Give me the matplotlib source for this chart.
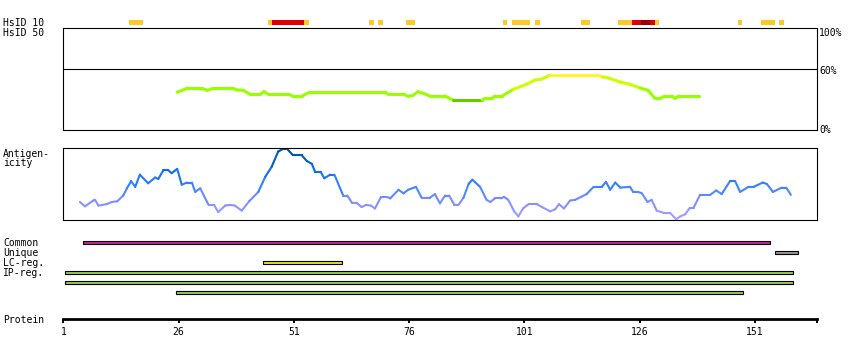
import matplotlib
matplotlib.use("Agg")
import matplotlib.pyplot as plt
from matplotlib.collections import LineCollection
from matplotlib.colors import LinearSegmentedColormap
import numpy as np

W, H = 850, 360
SEQ_END = 164.4  # right end of the protein ruler (residues)

# HsID 10 hits, half-open residue ranges; level 1 = orange, 2 = red, 3 = dark red
hsid_start = [15, 45, 46, 53, 67, 69, 75, 96, 98, 103, 113, 121, 124, 126, 128, 129, 147, 152, 156]
hsid_stop = [18, 46, 53, 54, 68, 70, 77, 97, 102, 104, 115, 124, 126, 128, 129, 130, 148, 155, 157]
hsid_level = [1, 1, 2, 1, 1, 1, 1, 1, 1, 1, 1, 1, 2, 3, 2, 1, 1, 1, 1]

# sequence identity (%) along the protein
id_pos = [25.7, 27.8, 31.1, 32.2, 33.5, 37.8, 38.7, 40.0, 41.5, 43.7, 44.5, 45.4, 49.7, 50.8,
          52.8, 54.5, 70.8, 71.4, 74.7, 75.8, 76.9, 77.9, 79.5, 80.5, 83.8, 85.5, 91.8, 92.5,
          94.0, 94.6, 96.2, 98.6, 101.6, 103.3, 104.8, 106.6, 116.8, 117.9, 118.9, 121.8,
          123.9, 126.1, 127.8, 129.3, 130.4, 131.5, 133.0, 133.7, 134.5, 138.9]
id_pct = [37, 40.8, 40.8, 38.9, 40.8, 40.8, 39.2, 39, 35, 35, 37.6, 35.3, 35.3, 33.3,
          33.3, 37.2, 37.2, 35.3, 35.3, 33, 34, 37.6, 35.3, 33.3, 33.3, 29.4, 29.4, 31,
          31, 33.3, 33.3, 39.9, 45, 49, 50, 53.9, 53.9, 52, 51.5, 47,
          44.8, 41.2, 39, 31, 31, 33.3, 33.3, 31, 33.3, 33.3]

# antigenicity score (0..1)
ag_pos = [4.6, 5.7, 7.5, 7.9, 8.6, 10.4, 11.5, 12.7, 14.0, 14.8, 15.7, 16.6, 17.6, 19.4, 20.9,
          21.6, 22.7, 23.8, 24.5, 25.7, 26.7, 27.8, 28.9, 29.6, 30.7, 32.5, 33.7, 34.6, 36.1,
          37.2, 38.2, 39.7, 41.3, 43.3, 44.8, 46.2, 47.6, 48.7, 49.5, 50.8, 52.7, 53.8, 54.9,
          55.6, 56.8, 57.6, 58.9, 59.8, 61.7, 62.6, 63.6, 64.6, 65.7, 66.7, 67.7, 68.6, 69.9,
          71.2, 71.9, 73.7, 74.8, 75.8, 77.5, 78.7, 80.5, 81.6, 82.7, 83.8, 84.7, 85.8, 86.7,
          87.8, 88.9, 89.7, 91.4, 92.8, 93.6, 94.6, 95.9, 96.6, 97.5, 98.8, 99.7, 100.7, 101.9,
          103.7, 105.1, 106.6, 107.7, 108.5, 109.6, 110.9, 112.0, 114.5, 116.0, 117.8, 118.7,
          119.6, 120.7, 121.8, 123.9, 124.6, 125.7, 126.5, 127.7, 128.6, 129.7, 131.2, 132.6,
          133.9, 134.8, 135.9, 136.9, 137.7, 139.1, 141.3, 142.6, 143.8, 145.6, 146.7, 147.8,
          149.6, 150.7, 152.7, 153.6, 154.9, 156.8, 157.8, 158.8]
ag_val = [0.25, 0.19, 0.27, 0.28, 0.20, 0.22, 0.25, 0.26, 0.34, 0.44, 0.54, 0.46, 0.63, 0.51, 0.59,
          0.57, 0.69, 0.69, 0.65, 0.71, 0.49, 0.52, 0.52, 0.39, 0.44, 0.21, 0.21, 0.11, 0.20,
          0.21, 0.20, 0.13, 0.26, 0.39, 0.60, 0.74, 0.95, 0.99, 0.99, 0.90, 0.90, 0.82, 0.78,
          0.67, 0.67, 0.58, 0.63, 0.63, 0.34, 0.34, 0.24, 0.24, 0.18, 0.21, 0.20, 0.16, 0.32,
          0.32, 0.30, 0.42, 0.37, 0.42, 0.46, 0.31, 0.31, 0.36, 0.23, 0.34, 0.34, 0.21, 0.21,
          0.31, 0.50, 0.56, 0.46, 0.28, 0.25, 0.30, 0.30, 0.32, 0.28, 0.12, 0.05, 0.16, 0.22,
          0.22, 0.17, 0.12, 0.15, 0.22, 0.16, 0.27, 0.28, 0.36, 0.46, 0.46, 0.53,
          0.42, 0.52, 0.45, 0.46, 0.39, 0.39, 0.37, 0.25, 0.28, 0.13, 0.10, 0.10,
          0.01, 0.05, 0.08, 0.17, 0.17, 0.35, 0.35, 0.41, 0.36, 0.54, 0.54, 0.39,
          0.46, 0.46, 0.52, 0.50, 0.39, 0.45, 0.45, 0.35]

# annotated regions
feat_start = [5, 155, 44, 1, 1, 25]
feat_stop = [154, 160, 61, 159, 159, 148]
feat_kind = ["Common", "Unique", "LC-reg.", "IP-reg.", "IP-reg.", "IP-reg."]

ruler_ticks = [1, 26, 51, 76, 101, 126, 151]

row_labels = ["Common", "Unique", "LC-reg.", "IP-reg."]

LEVEL_COLORS = {1: "#FFC822", 2: "#DD0000", 3: "#990000"}
FEAT_COLORS = {"Common": "#CC2299", "Unique": "#999999", "LC-reg.": "#EEDD33", "IP-reg.": "#99CC55"}
MONO = "DejaVu Sans Mono"
X0, X1 = 63.3, 816.7

fig = plt.figure(figsize=(W / 100, H / 100), dpi=100)


def px_axes(x0, y0, x1, y1):
    return fig.add_axes([x0 / W, 1 - y1 / H, (x1 - x0) / W, (y1 - y0) / H])


def label(x, y, s, **kw):
    fig.text(x / W, 1 - y / H, s, family=MONO, fontsize=7, va="baseline", **kw)


def id_color(p):
    if p < 30:
        return "#66CC00"
    if p < 42:
        return "#99FF00"
    if p < 52:
        return "#CCFF00"
    return "#FFF52A"


ag_cmap = LinearSegmentedColormap.from_list(
    "ag", ["#B0A0FF", "#8090FF", "#3080FF", "#0066DD", "#004C99"])

# --- HsID bars
ax_hs = px_axes(X0, 20, X1, 25)
for s, e, lv in zip(hsid_start, hsid_stop, hsid_level):
    ax_hs.bar(s + 0.3, 1, width=e - s, bottom=0, align="edge", color=LEVEL_COLORS[lv], lw=0)
ax_hs.set_xlim(1, SEQ_END)
ax_hs.set_ylim(0, 1)
ax_hs.axis("off")

# --- identity box
ax_id = px_axes(X0, 28, X1, 130)
pts = np.column_stack([id_pos, id_pct])
segs = [pts[i:i + 2] for i in range(len(pts) - 1)]
cols = [id_color((id_pct[i] + id_pct[i + 1]) / 2) for i in range(len(pts) - 1)]
ax_id.add_collection(LineCollection(segs, colors=cols, linewidths=2.2, capstyle="round"))
ax_id.axhline(60, color="black", lw=0.8)
ax_id.set_xlim(1, SEQ_END)
ax_id.set_ylim(0, 100)
ax_id.set_xticks([])
ax_id.set_yticks([])
for sp in ax_id.spines.values():
    sp.set_linewidth(0.8)

# --- antigenicity box
ax_ag = px_axes(X0, 148, X1, 220)
pts = np.column_stack([ag_pos, ag_val])
segs = [pts[i:i + 2] for i in range(len(pts) - 1)]
cols = [ag_cmap((ag_val[i] + ag_val[i + 1]) / 2) for i in range(len(pts) - 1)]
ax_ag.add_collection(LineCollection(segs, colors=cols, linewidths=1.5, capstyle="round"))
ax_ag.set_xlim(1, SEQ_END)
ax_ag.set_ylim(0, 1)
ax_ag.set_xticks([])
ax_ag.set_yticks([])
for sp in ax_ag.spines.values():
    sp.set_linewidth(0.8)

# --- feature rows
ax_ft = px_axes(X0, 237.3, X1, 297.3)
for row, (s, e, k) in enumerate(zip(feat_start, feat_stop, feat_kind)):
    ax_ft.barh(row, e - s, left=s + 0.35, height=0.36, color=FEAT_COLORS[k],
               edgecolor="black", linewidth=0.8)
ax_ft.set_xlim(1, SEQ_END)
ax_ft.set_ylim(5.5, -0.5)
ax_ft.axis("off")

# --- protein ruler
ax_pr = px_axes(X0, 318.3, X1, 319.3)
for name in ("top", "left", "right"):
    ax_pr.spines[name].set_visible(False)
ax_pr.spines["bottom"].set_linewidth(2.0)
ax_pr.set_xlim(1, SEQ_END)
ax_pr.set_yticks([])
ax_pr.set_xticks(ruler_ticks + [SEQ_END])
ax_pr.set_xticklabels([str(t) for t in ruler_ticks] + [""], family=MONO)
ax_pr.tick_params(axis="x", direction="out", length=3.2, width=1.4, pad=2.5, labelsize=7)

# --- text labels
label(3, 26, "HsID 10")
label(3, 36, "HsID 50")
label(3, 156.7, "Antigen-")
label(3, 166, "icity")
for i, t in enumerate(row_labels):
    label(3, 246 + 10 * i, t)
label(3, 322.7, "Protein")
label(819.3, 36, "100%")
label(819.3, 74, "60%")
label(819.3, 133.3, "0%")

fig.savefig("out.png", dpi=100)
